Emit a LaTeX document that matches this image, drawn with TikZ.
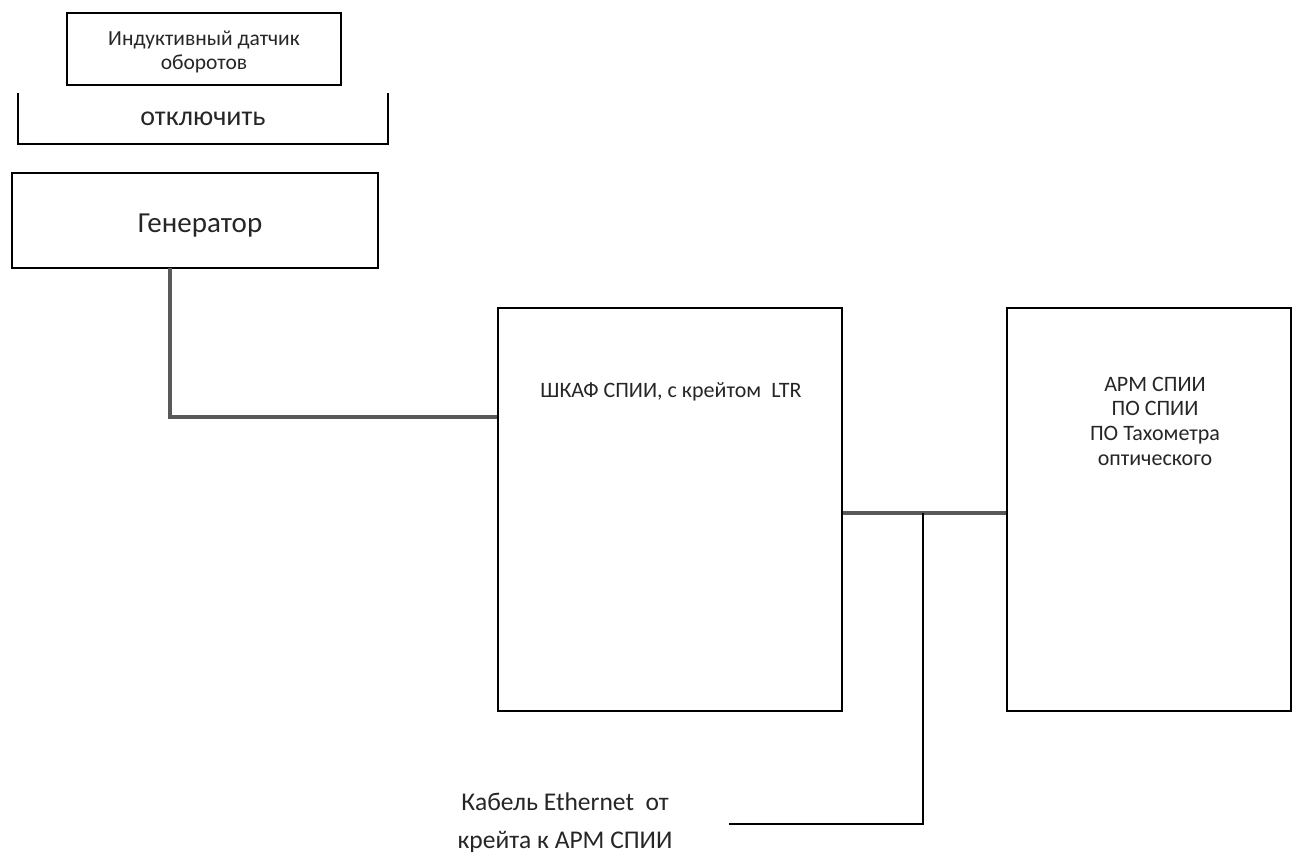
\documentclass[tikz,border=0pt]{standalone}
\usepackage{fontspec}
\setmainfont{Carlito}
\begin{document}
\begin{tikzpicture}[x=1pt,y=-1pt,
  box/.style={draw=black,line width=1.6pt,inner sep=0pt,anchor=center},
  lbl/.style={inner sep=0pt,align=center,text=black!85},
  cable/.style={draw=black!65,line width=3.6pt},
  thin/.style={draw=black,line width=1.6pt}]
\useasboundingbox (0,0) rectangle (1294,860);
% boxes
\node[box,minimum width=274pt,minimum height=72pt] (sens) at (204,49) {};
\node[lbl,font=\fontsize{21.5}{24.5}\selectfont] (senst) at (204,52) {Индуктивный датчик\\оборотов};
\coordinate (bl1) at (18,93);
\coordinate (bl2) at (18,144);
\coordinate (br1) at (388,93);
\coordinate (br2) at (388,144);
\draw[thin] (bl1) -- (bl2) -- (br2) -- (br1);
\node[lbl,font=\fontsize{28}{30}\selectfont] (off) at (203,119) {отключить};
\node[box,minimum width=366pt,minimum height=95pt] (gen) at (195,220.5) {};
\node[lbl,font=\fontsize{29}{32}\selectfont] (gent) at (200,226) {Генератор};
\node[box,minimum width=344pt,minimum height=403pt] (cab) at (670,509.5) {};
\node[lbl,font=\fontsize{22}{26}\selectfont] (cabt) at (671,392) {ШКАФ СПИИ, с крейтом\ \ LTR};
\node[box,minimum width=284pt,minimum height=403pt] (arm) at (1149,509.5) {};
\node[lbl,font=\fontsize{22}{24.7}\selectfont] (armt) at (1155,421) {АРМ СПИИ\\ПО СПИИ\\ПО Тахометра\\оптического};
% connectors
\coordinate (g1) at (170,268);
\coordinate (g2) at (170,417);
\draw[cable] (g1) -- (g2) -- (g2 -| cab.west);
\coordinate (e1) at (cab.east |- 0,513);
\draw[cable] (e1) -- (e1 -| arm.west);
\coordinate (t1) at (923,513);
\coordinate (t2) at (923,824);
\coordinate (t3) at (729,824);
\draw[thin] (t1) -- (t2) -- (t3);
\node[lbl,font=\fontsize{25.5}{38}\selectfont] (eth) at (565,823) {Кабель Ethernet\ \ от\\крейта к АРМ СПИИ};
\end{tikzpicture}
\end{document}
